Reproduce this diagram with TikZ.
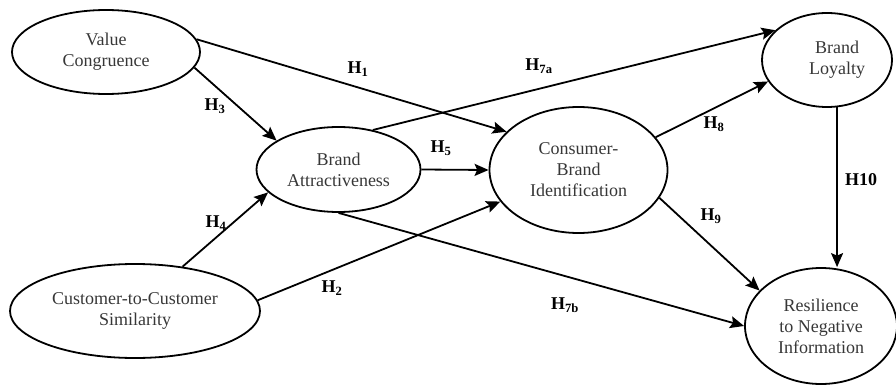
\documentclass[tikz,border=0pt]{standalone}
\usepackage{fontspec}
\setmainfont{Liberation Serif}
\usetikzlibrary{shapes.geometric,arrows.meta,calc}
\definecolor{inkgray}{RGB}{55,55,55}
\begin{document}
\begin{tikzpicture}[x=1pt,y=-1pt,
  construct/.style={ellipse, draw, line width=1.8pt, inner sep=0pt, align=center,
    text=inkgray, font=\fontsize{18}{21}\selectfont},
  path arrow/.style={line width=1.8pt, -{Stealth[length=14pt,width=12pt,inset=2.5pt]}},
  hyp/.style={font=\bfseries\fontsize{18}{21}\selectfont, inner sep=0pt}]
\useasboundingbox (0,0) rectangle (896,385);

% constructs
\node[construct, minimum width=188pt, minimum height=84pt]  (vc)  at (106,52)    {Value\\Congruence};
\node[construct, minimum width=164pt, minimum height=85pt]  (ba)  at (338.5,169.5) {Brand\\Attractiveness};
\node[construct, minimum width=178pt, minimum height=126pt] (cbi) at (578.5,170) {Consumer-\\Brand\\Identification};
\node[construct, minimum width=130pt, minimum height=94pt]  (bl)  at (827,60)    {\hspace*{20pt}Brand\\\hspace*{20pt}Loyalty};
\node[construct, minimum width=152pt, minimum height=116pt] (res) at (821,326)   {Resilience\\to Negative\\Information};
\node[construct, minimum width=250pt, minimum height=94pt]  (ccs) at (135,311)   {Customer-to-Customer\\Similarity};

% hypothesised paths
\draw[path arrow] (vc.8)   -- (cbi.152);
\draw[path arrow] (vc.-10) -- (ba.155);
\draw[path arrow] (ccs.43) -- (ba.198);
\draw[path arrow] (ccs.5)  -- (cbi.202);
\draw[path arrow] (ba.east) -- (cbi.west);
\draw[path arrow] (ba.49)  -- (bl.150);
\draw[path arrow] (ba.south) -- (res.west);
\draw[path arrow] (cbi.23) -- (bl.200);
\draw[path arrow] (cbi.-19) -- (res.150);
\draw[path arrow] (bl.-78) -- (bl.-78 |- res.north);

% path labels
\node[hyp] (h1)  at (358,69)  {H\textsubscript{1}};
\node[hyp] (h3)  at (215,106) {H\textsubscript{3}};
\node[hyp] (h4)  at (216,223) {H\textsubscript{4}};
\node[hyp] (h2)  at (332,288) {H\textsubscript{2}};
\node[hyp] (h5)  at (441,148) {H\textsubscript{5}};
\node[hyp] (h7a) at (539,66)  {H\textsubscript{7a}};
\node[hyp] (h7b) at (565,305) {H\textsubscript{7b}};
\node[hyp] (h8)  at (714,124) {H\textsubscript{8}};
\node[hyp] (h9)  at (711,216) {H\textsubscript{9}};
\node[hyp] (h10) at (861,180) {H10};
\end{tikzpicture}
\end{document}
